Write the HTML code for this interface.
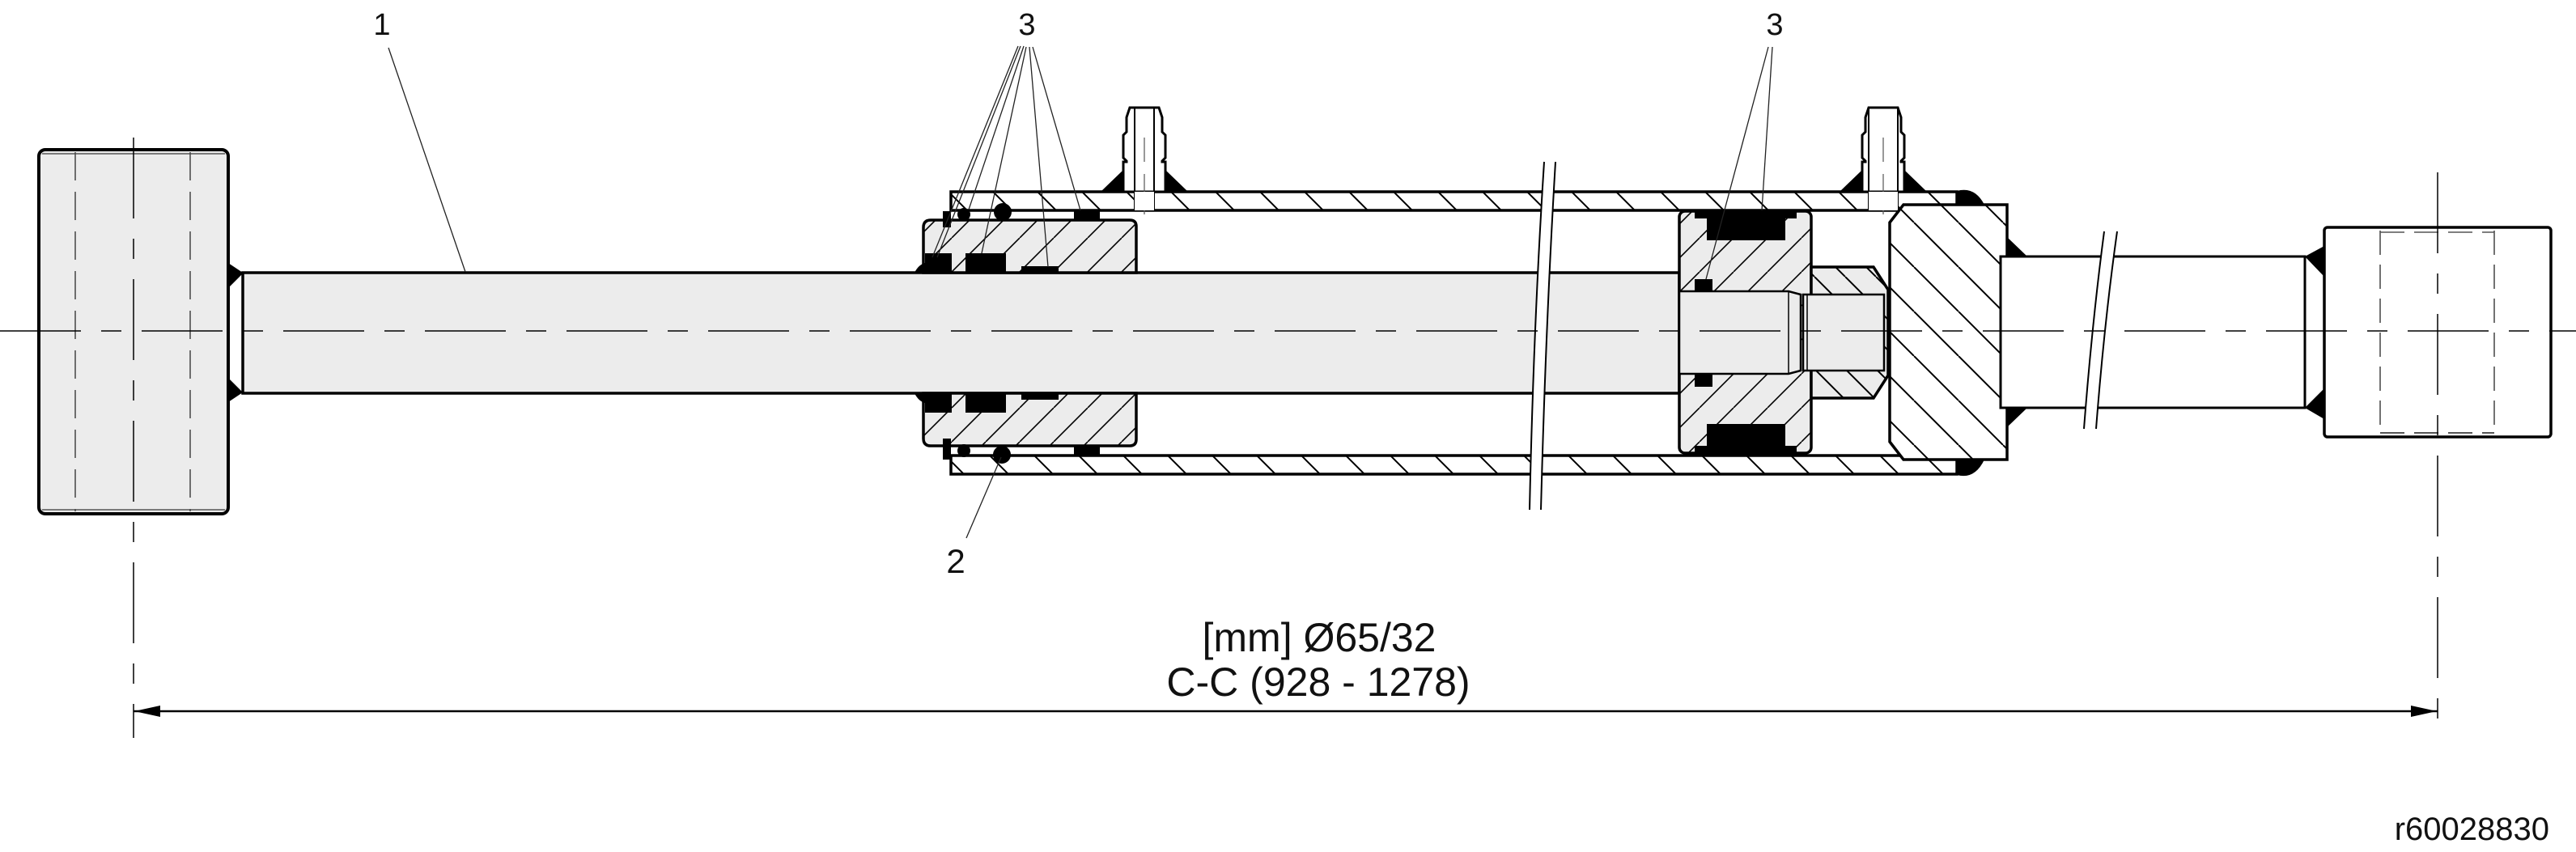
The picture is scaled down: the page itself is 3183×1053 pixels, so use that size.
<!DOCTYPE html>
<html><head><meta charset="utf-8"><style>
html,body{margin:0;padding:0;background:#fff;}
svg{display:block;}
text{font-family:"Liberation Sans",Arial,sans-serif;fill:#111;}
</style></head><body>
<svg width="3183" height="1053" viewBox="0 0 3183 1053" xmlns="http://www.w3.org/2000/svg">
<defs>
<pattern id="hb" patternUnits="userSpaceOnUse" width="55" height="55" patternTransform="rotate(0)">
<line x1="0" y1="0" x2="55" y2="55" stroke="#000" stroke-width="2"/>
<line x1="-55" y1="0" x2="0" y2="55" stroke="#000" stroke-width="2"/>
<line x1="55" y1="0" x2="110" y2="55" stroke="#000" stroke-width="2"/>
</pattern>
<pattern id="hf" patternUnits="userSpaceOnUse" width="42" height="42">
<line x1="0" y1="42" x2="42" y2="0" stroke="#000" stroke-width="1.6"/>
<line x1="-42" y1="42" x2="0" y2="0" stroke="#000" stroke-width="1.6"/>
<line x1="42" y1="42" x2="84" y2="0" stroke="#000" stroke-width="1.6"/>
</pattern>
<pattern id="hb2" patternUnits="userSpaceOnUse" width="38" height="38">
<line x1="0" y1="0" x2="38" y2="38" stroke="#000" stroke-width="2"/>
<line x1="-38" y1="0" x2="0" y2="38" stroke="#000" stroke-width="2"/>
<line x1="38" y1="0" x2="76" y2="38" stroke="#000" stroke-width="2"/>
</pattern>
</defs>

<!-- Left eye -->
<rect x="48" y="185" width="234" height="450" rx="8" fill="#ececec" stroke="#000" stroke-width="4"/>
<line x1="52" y1="190" x2="278" y2="190" stroke="#555" stroke-width="1.5"/>
<line x1="52" y1="630" x2="278" y2="630" stroke="#555" stroke-width="1.5"/>
<line x1="93" y1="188" x2="93" y2="632" stroke="#444" stroke-width="1.5" stroke-dasharray="35,14"/>
<line x1="235" y1="188" x2="235" y2="632" stroke="#444" stroke-width="1.5" stroke-dasharray="35,14"/>
<line x1="165" y1="170" x2="165" y2="912" stroke="#000" stroke-width="1.5" stroke-dasharray="100,25,25,25"/>
<!-- left welds -->
<polygon points="282,325 300,337 282,355" fill="#000"/>
<polygon points="282,467 300,485 282,497" fill="#000"/>

<!-- Rod -->
<rect x="300" y="337" width="1775" height="149" fill="#ececec" stroke="#000" stroke-width="3.5"/>
<line x1="300" y1="337" x2="300" y2="486" stroke="#000" stroke-width="2"/>
<line x1="282" y1="355" x2="300" y2="337" stroke="#000" stroke-width="1.5"/>

<!-- Tube walls -->
<rect x="1175" y="237" width="1243" height="23" fill="url(#hb)" stroke="#000" stroke-width="3.5"/>
<rect x="1175" y="563" width="1243" height="23" fill="url(#hb)" stroke="#000" stroke-width="3.5"/>

<!-- Gland -->
<path d="M1150,272 H1396 Q1404,272 1404,280 V337 H1141 V281 Q1141,272 1150,272 Z" fill="#ececec" stroke="#000" stroke-width="3.5"/>
<path d="M1150,272 H1396 Q1404,272 1404,280 V337 H1141 V281 Q1141,272 1150,272 Z" fill="url(#hf)"/>
<path d="M1141,486 H1404 V543 Q1404,551 1396,551 H1150 Q1141,551 1141,542 Z" fill="#ececec" stroke="#000" stroke-width="3.5"/>
<path d="M1141,486 H1404 V543 Q1404,551 1396,551 H1150 Q1141,551 1141,542 Z" fill="url(#hf)"/>
<!-- gland seals -->
<rect x="1143" y="313" width="33" height="24" fill="#000"/>
<rect x="1193" y="313" width="50" height="24" fill="#000"/>
<rect x="1262" y="329" width="46" height="8" fill="#000"/>
<rect x="1327" y="259" width="32" height="13" fill="#000"/>
<rect x="1143" y="486" width="33" height="24" fill="#000"/>
<rect x="1193" y="486" width="50" height="24" fill="#000"/>
<rect x="1262" y="486" width="46" height="8" fill="#000"/>
<rect x="1327" y="551" width="32" height="13" fill="#000"/>
<rect x="1165" y="261" width="10" height="20" fill="#000"/>
<rect x="1165" y="542" width="10" height="26" fill="#000"/>
<circle cx="1191" cy="265" r="8" fill="#000"/>
<circle cx="1239" cy="262" r="11" fill="#000"/>
<circle cx="1191" cy="557" r="8" fill="#000"/>
<circle cx="1238" cy="562" r="11" fill="#000"/>
<path d="M1130,337 Q1135,327 1143,325 V337 Z" fill="#000"/>
<path d="M1130,486 Q1135,496 1143,498 V486 Z" fill="#000"/>

<!-- Ports -->
<g id="port1">
<polygon points="1396,133 1432,133 1436,145 1436,163 1440,167 1440,195 1436,199 1436,200 1440,200 1440,237 1388,237 1388,200 1392,200 1392,199 1388,195 1388,167 1392,163 1392,145" fill="#fff" stroke="#000" stroke-width="3"/>
<line x1="1402" y1="133" x2="1402" y2="260" stroke="#000" stroke-width="2"/>
<line x1="1426" y1="133" x2="1426" y2="260" stroke="#000" stroke-width="2"/>
<line x1="1414" y1="170" x2="1414" y2="265" stroke="#555" stroke-width="1.2" stroke-dasharray="30,15"/>
<polygon points="1388,210 1388,237 1360,237" fill="#000"/>
<polygon points="1440,210 1440,237 1468,237" fill="#000"/>
<rect x="1402" y="237" width="24" height="23" fill="#fff"/>
</g>
<g transform="translate(913,0)">
<polygon points="1396,133 1432,133 1436,145 1436,163 1440,167 1440,195 1436,199 1436,200 1440,200 1440,237 1388,237 1388,200 1392,200 1392,199 1388,195 1388,167 1392,163 1392,145" fill="#fff" stroke="#000" stroke-width="3"/>
<line x1="1396" y1="133" x2="1396" y2="260" stroke="#000" stroke-width="2"/>
<line x1="1432" y1="133" x2="1432" y2="260" stroke="#000" stroke-width="2"/>
<line x1="1414" y1="170" x2="1414" y2="265" stroke="#555" stroke-width="1.2" stroke-dasharray="30,15"/>
<polygon points="1388,210 1388,237 1360,237" fill="#000"/>
<polygon points="1440,210 1440,237 1468,237" fill="#000"/>
<rect x="1396" y="237" width="36" height="23" fill="#fff"/>
</g>

<!-- Piston -->
<rect x="2075" y="261" width="163" height="299" rx="7" fill="#ececec" stroke="#000" stroke-width="3.5"/>
<rect x="2075" y="261" width="163" height="299" rx="7" fill="url(#hf)"/>
<path d="M2094,261 H2220 V270 H2206 V297 H2109 V270 H2094 Z" fill="#000"/>
<path d="M2094,560 H2220 V551 H2206 V524 H2109 V551 H2094 Z" fill="#000"/>
<rect x="2094" y="345" width="22" height="16" fill="#000"/>
<rect x="2094" y="462" width="22" height="16" fill="#000"/>
<!-- rod inside piston -->
<path d="M2075,360 H2210 L2225,364 V458 L2210,462 H2075 Z" fill="#ececec" stroke="#000" stroke-width="2.5"/>
<line x1="2210" y1="360" x2="2210" y2="462" stroke="#000" stroke-width="1.5"/>
<!-- nut -->
<path d="M2238,330 H2315 L2333,358 V464 L2315,492 H2238 Z" fill="#ececec" stroke="#000" stroke-width="3.5"/>
<path d="M2238,330 H2315 L2333,358 V464 L2315,492 H2238 Z" fill="url(#hb2)"/>
<rect x="2228" y="364" width="100" height="94" fill="#ececec" stroke="#000" stroke-width="2.5"/>
<line x1="2233" y1="364" x2="2233" y2="458" stroke="#000" stroke-width="1.5"/>

<!-- End cap -->
<path d="M2352,253 H2480 V568 H2352 L2335,546 V275 Z" fill="#fff" stroke="#000" stroke-width="3.5"/>
<path d="M2352,253 H2480 V568 H2352 L2335,546 V275 Z" fill="url(#hb)"/>
<path d="M2418,236 Q2440,230 2452,253 H2418 Z" fill="#000"/>
<path d="M2418,587 Q2440,593 2452,568 H2418 Z" fill="#000"/>
<polygon points="2480,293 2480,317 2505,317" fill="#000"/>
<polygon points="2480,504 2480,528 2505,504" fill="#000"/>

<!-- Spigot -->
<rect x="2472" y="317" width="376" height="187" fill="#fff" stroke="#000" stroke-width="3"/>
<line x1="2848" y1="317" x2="2848" y2="504" stroke="#000" stroke-width="2"/>
<polygon points="2848,317 2872,304 2872,342" fill="#000"/>
<polygon points="2848,504 2872,480 2872,518" fill="#000"/>
<path d="M2584,480 H2622 L2605,580 Q2598,500 2590,580 Z" fill="none"/>
<path d="M2600,286 Q2585,400 2575,530 L2590,530 Q2600,400 2616,286 Z" fill="#fff"/>
<path d="M2600,286 Q2585,400 2575,530 M2616,286 Q2600,400 2590,530" fill="none" stroke="#000" stroke-width="2"/>

<!-- Right eye -->
<rect x="2872" y="281" width="280" height="259" rx="4" fill="#fff" stroke="#000" stroke-width="3.5"/>
<line x1="2941" y1="285" x2="2941" y2="537" stroke="#444" stroke-width="1.5" stroke-dasharray="30,12"/>
<line x1="3082" y1="285" x2="3082" y2="537" stroke="#444" stroke-width="1.5" stroke-dasharray="30,12"/>
<line x1="2941" y1="287" x2="3082" y2="287" stroke="#555" stroke-width="1.5" stroke-dasharray="30,12"/>
<line x1="2941" y1="535" x2="3082" y2="535" stroke="#555" stroke-width="2" stroke-dasharray="30,12"/>
<line x1="3012" y1="213" x2="3012" y2="913" stroke="#000" stroke-width="1.5" stroke-dasharray="100,25,25,25"/>

<!-- Rod/tube break -->
<path d="M1908,200 Q1895,400 1890,630 L1904,630 Q1910,400 1922,200 Z" fill="#fff"/>
<path d="M1908,200 Q1895,400 1890,630 M1922,200 Q1910,400 1904,630" fill="none" stroke="#000" stroke-width="2"/>

<!-- Centre line -->
<line x1="0" y1="409" x2="3183" y2="409" stroke="#000" stroke-width="1.5" stroke-dasharray="100,25,25,25"/>

<!-- Leaders -->
<g stroke="#222" stroke-width="1.3" fill="none">
<line x1="480" y1="59" x2="575" y2="336"/>
<line x1="1258" y1="57" x2="1152" y2="318"/>
<line x1="1261" y1="57" x2="1158" y2="318"/>
<line x1="1265" y1="57" x2="1197" y2="259"/>
<line x1="1268" y1="58" x2="1213" y2="313"/>
<line x1="1272" y1="58" x2="1295" y2="330"/>
<line x1="1276" y1="58" x2="1335" y2="260"/>
<line x1="2185" y1="58" x2="2108" y2="345"/>
<line x1="2190" y1="58" x2="2177" y2="260"/>
<line x1="1194" y1="665" x2="1237" y2="565"/>
</g>

<!-- Dimension -->
<line x1="165" y1="879" x2="3012" y2="879" stroke="#000" stroke-width="2.5"/>
<polygon points="166,879 198,872 198,886" fill="#000"/>
<polygon points="3011,879 2979,872 2979,886" fill="#000"/>

<!-- Text -->
<text x="472" y="43" font-size="38" text-anchor="middle">1</text>
<text x="1269" y="43" font-size="38" text-anchor="middle">3</text>
<text x="2193" y="43" font-size="38" text-anchor="middle">3</text>
<text x="1181" y="708" font-size="42" text-anchor="middle">2</text>
<text x="1630" y="805" font-size="50" text-anchor="middle">[mm] Ø65/32</text>
<text x="1629" y="860" font-size="50" text-anchor="middle">C-C (928 - 1278)</text>
<text x="3150" y="1038" font-size="40" text-anchor="end">r60028830</text>
</svg>
</body></html>
